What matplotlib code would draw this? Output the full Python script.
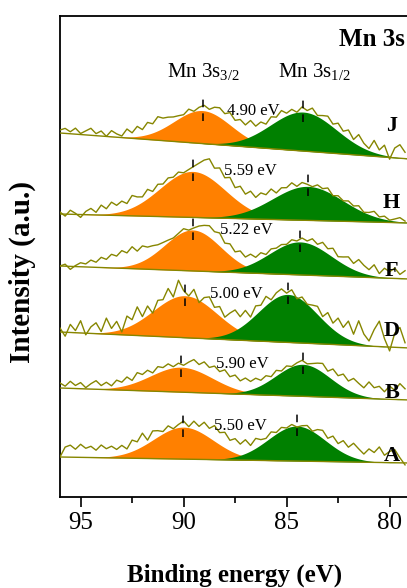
import numpy as np
import matplotlib.pyplot as plt

plt.rcParams['font.family'] = ['Liberation Serif', 'DejaVu Serif']
plt.rcParams['mathtext.fontset'] = 'custom'
plt.rcParams['mathtext.rm'] = 'Liberation Serif'
plt.rcParams['mathtext.it'] = 'Liberation Serif:italic'

# samples, stacked top to bottom
samples = ['J', 'H', 'F', 'D', 'B', 'A']
# Mn 3s multiplet splitting (eV)
splitting = [4.90, 5.59, 5.22, 5.00, 5.90, 5.50]
# Mn 3s3/2 component: position (eV), height, gaussian sigma (eV)
pos_32 = [89.08, 89.565, 89.555, 89.925, 90.11, 90.005]
height_32 = [33, 46, 41, 42, 25, 32]
sigma_32 = [1.38, 1.59, 1.36, 1.55, 1.50, 1.44]
# Mn 3s1/2 component (position = pos_32 - splitting)
height_12 = [39, 34, 33, 48, 32, 35]
sigma_12 = [1.60, 1.71, 1.50, 1.44, 1.32, 1.38]
# linear background of each stacked spectrum at 96 eV and at 79 eV
bg_high = [455, 374, 322, 256, 200, 131]
bg_low = [429, 365, 309, 240, 188, 125]

# raw counts minus fit, sampled every 0.25 eV from 96 eV down
resid_J = [3, 5, 2, 6, 1, 4, 7, 2, 5, 0, 6, 3,
           1, 8, 4, 10, 6, 12, 9, 14,
           10, 8, 5, 3, 1, 4, 0, 3, 5, 2, 6, 8,
           5, 9, 4, 7, 3, 8, 2, 5, 1, 6, 3, 7,
           2, 4, 0, 5, 2, 6, 1, 4, 7, 3, 8, 4,
           9, 3, 11, 5, 2, 12, 4, 10, -3, 9, 13, 6]
resid_H = [2, -2, 4, 1, -3, 3, 6, 2, 9, 5, 11, 7,
           10, 6, 12, 8, 5, 9, 3, 6,
           2, 4, 1, 3, 0, 2, 5, 9, 14, 18, 12, 16,
           10, 14, 7, 11, 5, 9, 3, 7, 4, 8, 2, 5,
           3, 6, 1, 4, 2, 0, 3, 1, 4, -1, 2, 0,
           3, 1, 4, 0, 2, 5, 1, 3, 0, 2, 4, 1]
resid_F = [0, 2, -3, 1, 4, 3, 7, 5, 10, 8, 13, 11,
           16, 13, 18, 12, 15, 11, 9, 6,
           4, 2, 0, 1, 3, 0, 2, 5, 8, 11, 9, 12,
           6, 9, 4, 7, 2, 5, 1, 4, 0, 3, 1, 2,
           0, 3, 1, 4, 2, 6, 3, 8, 5, 9, 4, 7,
           10, 6, 12, 8, 5, 11, 3, 9, 6, 10, 4, 8]
resid_D = [4, -4, 8, 2, 12, -2, 6, 10, 1, 14, 3, 9,
           -3, 11, 5, 15, 2, 9, -2, 7,
           4, 12, 1, 16, 5, 0, 8, -3, 5, 9, 2, 6,
           -2, 4, 8, 1, 6, -3, 5, 2, 7, 0, 4, 6,
           1, 5, -2, 3, 0, 4, 8, 3, 12, 6, 15, 9,
           18, 7, 22, 10, 4, 16, 25, 8, -4, 14, 20, 5]
resid_B = [5, 2, 7, 3, 6, 1, 5, 8, 3, 6, 2, 7,
           4, 8, 3, 9, 5, 7, 2, 6,
           3, 5, 1, 4, 2, 6, 10, 7, 12, 9, 13, 10,
           14, 9, 12, 7, 10, 6, 8, 4, 6, 2, 5, 1,
           3, 0, 2, 4, 1, 3, 6, 9, 5, 11, 8, 13,
           9, 14, 11, 8, 15, 10, 12, 7, 13, 9, 16, 11]
resid_A = [0, 10, 12, 8, 13, 9, 11, 7, 12, 8, 10, 6,
           9, 4, 11, 7, 13, 3, 9, 6,
           2, 5, 0, 3, 6, 1, 8, 5, 12, 9, 15, 11,
           14, 8, 11, 6, 10, 3, 8, 4, 2, 5, 1, 3,
           0, 2, -1, 1, 3, 0, 5, 8, 4, 10, 6, 12,
           8, 14, 10, 6, 12, 9, 15, 7, 11, 13, 5, -2]
residuals = [resid_J, resid_H, resid_F, resid_D, resid_B, resid_A]

# where the sample letters sit
letter_y = [462, 385, 317, 257, 195, 132]

orange = '#ff8000'
green = '#008000'
olive = '#868600'

energy = 96 - 0.25 * np.arange(len(resid_J))
e_fine = np.linspace(96, 79, 600)


def gauss(e, c, h, s):
    return h * np.exp(-(e - c) ** 2 / (2 * s ** 2))


def background(e, k):
    return np.interp(e, [79, 96], [bg_low[k], bg_high[k]])


fig = plt.figure(figsize=(4.07, 5.88), dpi=100)
ax = fig.add_axes([60 / 407, 91 / 588, 350.2 / 407, 481 / 588])

for k in range(len(samples)):
    c32 = pos_32[k]
    c12 = pos_32[k] - splitting[k]
    bg = background(e_fine, k)
    p32 = gauss(e_fine, c32, height_32[k], sigma_32[k])
    p12 = gauss(e_fine, c12, height_12[k], sigma_12[k])
    ax.fill_between(e_fine, bg, bg + p32, color=orange, lw=0, zorder=2)
    ax.fill_between(e_fine, bg, bg + p12, color=green, lw=0, zorder=3)
    ax.plot(e_fine, bg, color=olive, lw=1.0, zorder=4)

    raw = (background(energy, k)
           + gauss(energy, c32, height_32[k], sigma_32[k])
           + gauss(energy, c12, height_12[k], sigma_12[k])
           + np.array(residuals[k]))
    ax.plot(energy, raw, color=olive, lw=1.0, zorder=5)

    # dashed markers at the two peak maxima
    tops = []
    for c, h in [(c32, height_32[k]), (c12, height_12[k])]:
        top = float(background(c, k)) + h
        tops.append(top)
        ax.plot([c, c], [top - 10, top + 17], color='k', lw=1.1,
                ls=(0, (5, 4)), zorder=6)

    ax.text((c32 + c12) / 2, max(tops), f'{splitting[k]:.2f} eV',
            fontsize=12, ha='center', va='center', zorder=7)
    ax.text(79.9, letter_y[k], samples[k], fontsize=16, fontweight='bold',
            ha='center', va='center', zorder=7)

ax.text(80.87, 548, 'Mn 3s', fontsize=18, fontweight='bold',
        ha='center', va='center')
ax.text(89.03, 511, r'Mn 3s$_{\mathregular{3/2}}$', fontsize=15,
        ha='center', va='baseline')
ax.text(83.64, 511, r'Mn 3s$_{\mathregular{1/2}}$', fontsize=15,
        ha='center', va='baseline')

ax.set_xlim(96, 79)
ax.set_ylim(91, 572)
ax.set_yticks([])
ax.set_xticks([95, 90, 85, 80])
ax.set_xticks([92.5, 87.5, 82.5], minor=True)
ax.tick_params(axis='x', which='major', direction='out', length=7,
               width=1.2, labelsize=18, pad=4)
ax.tick_params(axis='x', which='minor', direction='out', length=4, width=1.2)
for s in ax.spines.values():
    s.set_linewidth(1.3)

fig.text(235 / 407, 1 - 582 / 588, 'Binding energy (eV)', fontsize=18,
         fontweight='bold', ha='center', va='baseline')
fig.text(22 / 407, 1 - 272 / 588, 'Intensity (a.u.)', fontsize=21,
         fontweight='bold', rotation=90, ha='center', va='center')

fig.savefig('out.png', dpi=100)
